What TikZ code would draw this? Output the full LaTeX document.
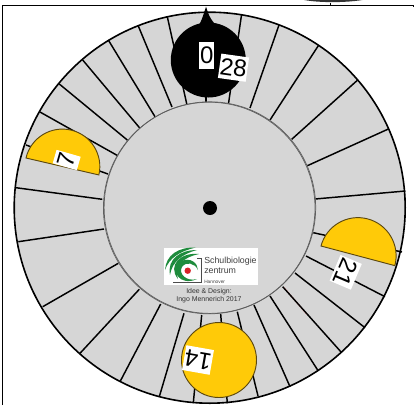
\documentclass[tikz,border=0pt]{standalone}
\usepackage{fontspec}
\setmainfont{Liberation Sans}
\usetikzlibrary{positioning}
\definecolor{discgray}{RGB}{214,214,214}
\definecolor{rimgray}{RGB}{95,95,95}
\definecolor{markyellow}{RGB}{255,202,8}
\definecolor{markedge}{RGB}{92,72,16}
\definecolor{logogreen}{RGB}{30,140,60}
\definecolor{logored}{RGB}{215,35,40}

\begin{document}
\begin{tikzpicture}[
    x=0.75pt, y=-0.75pt,
    spoke/.style={line width=1.1pt, color=black},
    rim/.style={line width=0.55pt, draw=rimgray},
    marker/.style={fill=markyellow, draw=markedge, line width=0.7pt},
    daytag/.style={
        rectangle, fill=white, inner sep=0pt,
        font=\fontsize{18}{18}\selectfont,
        align=center
    },
    swirl/.style={fill=logogreen},
    logotxt/.style={font=\fontsize{6.6}{7}\selectfont, color=black!75, anchor=west, inner sep=0pt},
    credit/.style={font=\fontsize{5.2}{6}\selectfont, color=black!80, inner sep=0pt}
]
\useasboundingbox (0,0) rectangle (414,405);
\fill[white] (0,0) rectangle (414,405);

% frame and the edge of the disc above it
\begin{scope}
\clip (0,0) rectangle (414,405);
\fill[black!80] (296,-2) .. controls (312,3.5) and (352,3.5) .. (372,-2) -- cycle;
\end{scope}
\coordinate (frameL) at (2.3,405);
\coordinate (frameC) at (2.3,5.3);
\coordinate (frameR) at (413,5.3);
\draw[line width=0.9pt] (frameL) -- (frameC) -- (frameR);
\draw[line width=0.6pt] (frameR) -- ++(0,1.5);
\draw[line width=0.4pt] (330.7,2.5) -- (330.7,5);

% discs
\coordinate (hub) at (209.7,207.7);
\fill[discgray] (hub) circle[radius=195.5];

% spokes, inner end / outer end
\draw[line width=1pt, color=red!25] (283.5,287) -- (307,314.5);
\foreach \ix/\iy/\ox/\oy in {
    206/107/206/12, 228/107/241.5/15, 250/108/279/25, 270/120/318.3/45.7,
    291.7/139.3/357.7/80, 306.7/166/389/128.7, 315/199/405.3/191,
    313.3/232.7/402/252, 306/256/385/296.7, 295/273/365/327.7,
    282.7/286.7/341.7/352.7, 270/296/318.3/371, 254/305/290/386.7,
    237.3/311.7/258/396, 220.7/314/227.3/403.3, 201.7/315/193.3/403,
    184/313.3/159.3/396.7, 160.7/304/120/381.7, 139.3/289.3/80/353.3,
    118.3/263.3/42.7/306.7, 104/229/18.3/241.7, 102.3/199.3/16/187.7,
    108/174/26/145, 118.3/156/40/112, 127.3/140/59.3/84,
    140/128.3/82.7/60, 155/116.7/108.3/40, 172/107/138.3/26,
    187/105/167.3/16.7}{
    \draw[spoke] (\ix,\iy) -- (\ox,\oy);
}
\draw[line width=1.2pt] (hub) circle[radius=195.5];
\fill[discgray] (hub) circle[radius=106];
\draw[rim] (209.2,208) circle[radius=105.8];
\draw[rim] (209.9,207.6) circle[radius=105.8];
\fill[black] (210,208) circle[radius=7];

% pointer
\fill[black] (208.3,60) circle[radius=37.5];
\fill[black] (195,30) .. controls (201,24) and (203,16) .. (206,6.7)
    .. controls (209,16) and (211,22) .. (222,30) -- cycle;
\node[daytag, minimum width=11pt, minimum height=20.7pt] (tagzero) at (206.7,55.5) {0};
\node[daytag, minimum width=21pt, minimum height=18.4pt, rotate=-8] (tagtwoeight) at (233.5,67.7) {28};

% moon markers
\draw[marker] (26,158) arc[start angle=193.1, end angle=373.1, radius=37.4] -- cycle;
\node[daytag, minimum width=10.5pt, minimum height=18.8pt, rotate=74] (tagseven) at (66.7,160) {7};
\draw[marker] (321,246) arc[start angle=194.9, end angle=374.9, radius=38.2] -- cycle;
\node[daytag, minimum width=21pt, minimum height=17.3pt, rotate=-113] (tagtwoone) at (345.7,272.3) {21};
\draw[marker] (219,360) circle[radius=37.5];
\node[daytag, minimum width=21pt, minimum height=18.8pt, rotate=170] (tagfourteen) at (198,360) {14};

% logo
\node[fill=white, minimum width=70.3pt, minimum height=28pt, inner sep=0pt] (logo) at (210.8,266.3) {};
\fill[swirl] (196,247.5) .. controls (178,247) and (166,255) .. (165,270)
    .. controls (169,258) and (180,251) .. (196,247.5) -- cycle;
\fill[swirl] (197,250) .. controls (180,250) and (167,259) .. (170,275)
    .. controls (172,262) and (182,254) .. (197,250) -- cycle;
\fill[swirl] (199,254) .. controls (181,252) and (167,265) .. (178,279)
    .. controls (173,266) and (184,257) .. (199,254) -- cycle;
\fill[swirl] (197,279) .. controls (180,287) and (168,270) .. (182,261)
    .. controls (190,257) and (198,263) .. (198,270)
    .. controls (195,263) and (186,261) .. (182,267)
    .. controls (178,274) and (187,282) .. (197,279) -- cycle;
\fill[logored] (187.7,270.7) circle[radius=3.2];
\draw[line width=0.5pt, color=black!70] (197,258) -- (201,258) -- (201,282.7) -- (173,282.7);
\node[logotxt] (schul) at (204,261) {Schulbiologie};
\node[logotxt] (zentrum) at (204,271) {zentrum};
\node[logotxt, font=\fontsize{3.6}{4}\selectfont] (hannover) at (204,281.5) {Hannover};
\node[credit] (idee) at (209,291.7) {Idee \& Design:};
\node[credit, below=0.8pt of idee] (ingo) {Ingo Mennerich 2017};

\end{tikzpicture}
\end{document}
